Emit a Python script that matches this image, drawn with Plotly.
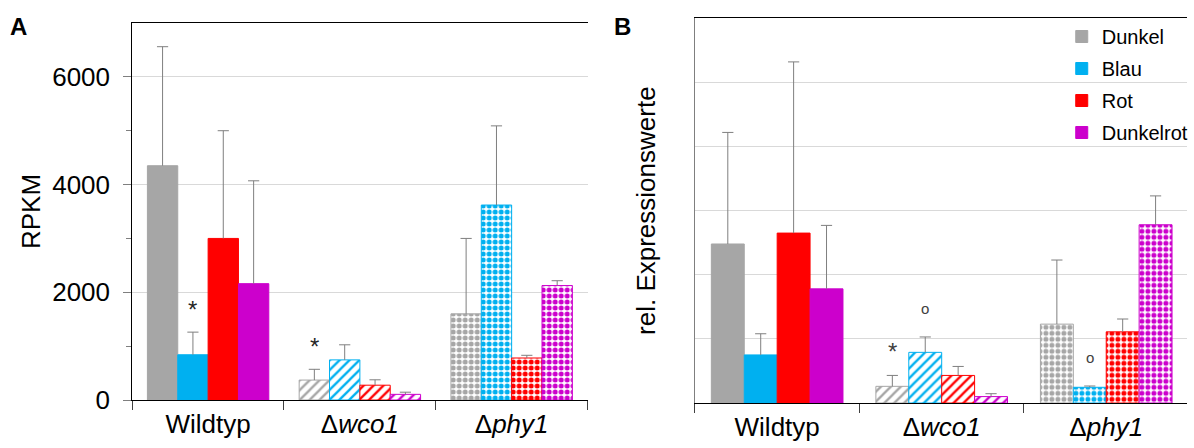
import plotly.graph_objects as go

# ---------------- data ----------------
groups = ["Wildtyp", "Δ<i>wco1</i>", "Δ<i>phy1</i>"]
series = ["Dunkel", "Blau", "Rot", "Dunkelrot"]
colors = ["#a6a6a6", "#00b0f0", "#ff0000", "#cc00cc"]

# Panel A: RPKM (mean, upper error)
rpkm_dunkel = [4350, 370, 1600]
rpkm_blau = [840, 745, 3620]
rpkm_rot = [3000, 275, 780]
rpkm_dunkelrot = [2160, 105, 2125]
rpkm_err_dunkel = [2210, 200, 1400]
rpkm_err_blau = [420, 280, 1470]
rpkm_err_rot = [2000, 100, 50]
rpkm_err_dunkelrot = [1910, 40, 90]

# Panel B: relative expression values
rel_dunkel = [2.48, 0.26, 1.23]
rel_blau = [0.75, 0.79, 0.245]
rel_rot = [2.65, 0.43, 1.11]
rel_dunkelrot = [1.78, 0.10, 2.78]
rel_err_dunkel = [1.74, 0.17, 1.00]
rel_err_blau = [0.33, 0.24, 0.02]
rel_err_rot = [2.67, 0.14, 0.20]
rel_err_dunkelrot = [0.99, 0.045, 0.45]

# significance marks (group index, series index, text, height in data units)
marks_A_group = [0, 1]
marks_A_series = [1, 0]
marks_A_text = ["*", "*"]
marks_A_y = [1765, 1085]
marks_B_group = [1, 1, 2]
marks_B_series = [0, 1, 1]
marks_B_text = ["*", "o", "o"]
marks_B_y = [0.88, 1.47, 0.71]

yA_ticks = [0, 2000, 4000, 6000]
yA_minor = [1000, 3000, 5000]

# ---------------- styling ----------------
W, H = 1194, 448
FONT = "Liberation Sans, Arial, sans-serif"
ERRC = "#7f7f7f"
pattern_shapes = ["", "/", "."]
pattern_sizes = [8, 7, 6]
pattern_solid = [0.5, 0.33, 0.55]
BAR_W = 0.2

valsA = [rpkm_dunkel, rpkm_blau, rpkm_rot, rpkm_dunkelrot]
errsA = [rpkm_err_dunkel, rpkm_err_blau, rpkm_err_rot, rpkm_err_dunkelrot]
valsB = [rel_dunkel, rel_blau, rel_rot, rel_dunkelrot]
errsB = [rel_err_dunkel, rel_err_blau, rel_err_rot, rel_err_dunkelrot]


def xpos(g, s):
    return g + (s - 1.5) * BAR_W


fig = go.Figure()


def add_panel(vals, errs, xa, ya, legend):
    for s, name in enumerate(series):
        xs = [xpos(g, s) for g in range(len(groups))]
        fig.add_trace(go.Bar(
            x=xs, y=vals[s], width=BAR_W, name=name,
            xaxis=xa, yaxis=ya, legendgroup=name, showlegend=legend,
            marker=dict(
                color=colors[s],
                line=dict(color=colors[s], width=1),
                pattern=dict(shape=pattern_shapes, size=pattern_sizes,
                             solidity=pattern_solid, fgcolor=colors[s],
                             bgcolor="white", fillmode="replace"),
            ),
            error_y=dict(type="data", array=errs[s], arrayminus=[0] * len(groups),
                         symmetric=False, width=0, thickness=1, color=ERRC),
            hoverinfo="skip",
        ))
        fig.add_trace(go.Scatter(
            x=xs, y=[v + e for v, e in zip(vals[s], errs[s])],
            xaxis=xa, yaxis=ya, mode="markers", showlegend=False,
            marker=dict(symbol="line-ew", size=8, color=ERRC,
                        line=dict(color=ERRC, width=1)),
            hoverinfo="skip",
        ))


add_panel(valsA, errsA, "x", "y", False)
add_panel(valsB, errsB, "x2", "y2", True)

domA_x = [133 / W, 591 / W]
domA_y = [1 - 400 / H, 1 - 23 / H]
domB_x = [699 / W, 1.0]
domB_y = [1 - 403 / H, 1 - 18.3 / H]
rangeA_x = [-0.5, 2.5]
rangeB_x = [-0.5, -0.5 + (1194 - 699) / 165.5]
bounds = [-0.5, 0.5, 1.5, 2.5]

xcommon = dict(tickmode="array", tickvals=[0, 1, 2], ticktext=groups, ticks="",
               showline=True, linecolor="black", linewidth=1, mirror=True,
               showgrid=False, zeroline=False, automargin=False,
               tickfont=dict(family=FONT, size=26, color="black"),
               ticklabelstandoff=1,
               minor=dict(tickmode="array", tickvals=bounds, ticks="outside",
                          ticklen=9, tickwidth=1, tickcolor="#404040", showgrid=False))
xinside = dict(tickmode="array", tickvals=bounds, ticks="inside", ticklen=8,
               tickwidth=1, tickcolor="#404040", showticklabels=False,
               showline=False, showgrid=False, zeroline=False, automargin=False)

annotations = [
    dict(text="<b>A</b>", x=19 / W, y=1 - 26.5 / H, xref="paper", yref="paper",
         xanchor="center", yanchor="middle",
         showarrow=False, font=dict(family=FONT, size=24, color="black")),
    dict(text="<b>B</b>", x=626 / W, y=1 - 26.5 / H, xref="paper", yref="paper",
         xanchor="center", yanchor="middle",
         showarrow=False, font=dict(family=FONT, size=24, color="black")),
]
for g, s, t, yv in zip(marks_A_group, marks_A_series, marks_A_text, marks_A_y):
    annotations.append(dict(text=t, x=xpos(g, s), y=yv, xref="x", yref="y",
                            showarrow=False, yanchor="middle", yshift=-5,
                            font=dict(family=FONT, size=24, color="#262626")))
for g, s, t, yv in zip(marks_B_group, marks_B_series, marks_B_text, marks_B_y):
    annotations.append(dict(text=t, x=xpos(g, s), y=yv, xref="x2", yref="y2",
                            showarrow=False, yanchor="middle",
                            yshift=-5 if t == "*" else 0,
                            font=dict(family=FONT, size=24 if t == "*" else 15,
                                      color="#404040")))

fig.update_layout(
    width=W, height=H,
    margin=dict(l=0, r=0, t=0, b=0),
    paper_bgcolor="white", plot_bgcolor="white",
    barmode="overlay",
    font=dict(family=FONT, color="black"),
    showlegend=True,
    legend=dict(x=1068 / W, y=1 - 17 / H, xanchor="left", yanchor="top",
                font=dict(family=FONT, size=20, color="black"),
                bgcolor="rgba(0,0,0,0)", tracegroupgap=3, itemwidth=30),
    annotations=annotations,
    xaxis=dict(domain=domA_x, range=rangeA_x, anchor="y", **xcommon),
    xaxis3=dict(domain=domA_x, range=rangeA_x, anchor="y", overlaying="x", **xinside),
    xaxis2=dict(domain=domB_x, range=rangeB_x, anchor="y2", **xcommon),
    xaxis4=dict(domain=domB_x, range=rangeB_x, anchor="y2", overlaying="x2", **xinside),
    yaxis=dict(domain=domA_y, range=[0, 7000], anchor="x",
               tickmode="array", tickvals=yA_ticks, ticks="outside", ticklen=8,
               tickwidth=1, tickcolor="#7f7f7f",
               tickfont=dict(family=FONT, size=26, color="black"),
               ticklabelstandoff=8,
               showline=True, linecolor="black", linewidth=1,
               showgrid=True, gridcolor="#d9d9d9", gridwidth=1, zeroline=False,
               automargin=False,
               minor=dict(tickmode="array", tickvals=yA_minor, ticks="outside",
                          ticklen=5, tickwidth=1, tickcolor="#7f7f7f", showgrid=False),
               title=dict(text="RPKM", font=dict(family=FONT, size=26, color="black"),
                          standoff=4)),
    yaxis3=dict(domain=domA_y, range=[0, 7000], anchor="x", overlaying="y",
                tickmode="array", tickvals=yA_ticks, ticks="inside", ticklen=8,
                tickwidth=1, tickcolor="#7f7f7f", showticklabels=False,
                showline=False, showgrid=False, zeroline=False, automargin=False),
    yaxis5=dict(domain=domA_y, range=[0, 7000], anchor="x", overlaying="y", side="right",
                showline=True, linecolor="#8c8c8c", linewidth=1, ticks="",
                showticklabels=False, showgrid=False, zeroline=False, automargin=False),
    yaxis2=dict(domain=domB_y, range=[0, 6], anchor="x2",
                tickmode="linear", tick0=0, dtick=1, ticks="", showticklabels=False,
                showline=True, linecolor="#7f7f7f", linewidth=1,
                showgrid=True, gridcolor="#d9d9d9", gridwidth=1, zeroline=False,
                automargin=False,
                title=dict(text="rel. Expressionswerte",
                           font=dict(family=FONT, size=26, color="black"), standoff=30)),
)

fig.write_html("out.html")
